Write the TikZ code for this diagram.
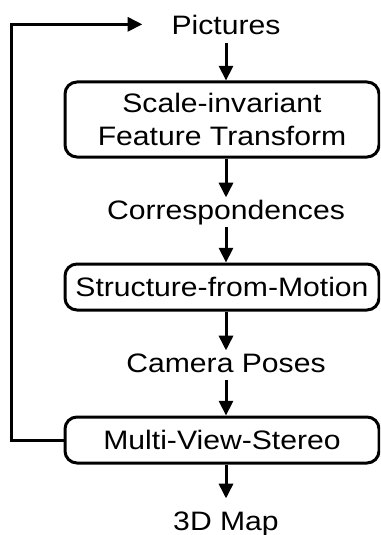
\documentclass[tikz,border=0pt]{standalone}
\usepackage{fontspec}
\setmainfont{Liberation Sans}[FakeStretch=1.13]
\usetikzlibrary{arrows.meta}

\tikzset{
  stage/.style={draw, line width=2.25pt, rounded corners=9pt,
                minimum width=235.5pt, align=center, inner sep=0pt},
  data/.style={inner sep=1.5pt, text height=14.5pt, text depth=4.5pt},
  flow/.style={line width=2.25pt, -{Triangle[length=11pt,width=10.5pt]}}
}

\begin{document}
\begin{tikzpicture}[x=0.75pt,y=-0.75pt,font=\fontsize{20}{24.75}\selectfont]
\useasboundingbox (0,0) rectangle (380,535);
\clip (0,0) rectangle (380,535);
\node [data, anchor=base] (pic) at (226,35) {Pictures};
\node [stage, minimum height=56.25pt] (sift) at (222,119.5)
      {Scale-invariant\\Feature Transform};
\node [data, anchor=base] (corr) at (226,219) {Correspondences};
\node [stage, minimum height=34.5pt] (sfm) at (222,287) {Structure-from-Motion};
\node [data, anchor=base] (pose) at (226,372) {Camera Poses};
\node [stage, minimum height=34.5pt] (mvs) at (222,440) {Multi-View-Stereo};
\node [data, anchor=base] (map) at (226,530) {3D Map};

% main chain
\draw [flow] (pic) -- (pic |- sift.north);
\draw [flow] (sift.south -| corr) -- (corr);
\draw [flow] (corr) -- (corr |- sfm.north);
\draw [flow] (sfm.south -| pose) -- (pose);
\draw [flow] (pose) -- (pose |- mvs.north);
\draw [flow, shorten >=7.5pt] (mvs.south -| map) -- (map);

% feedback loop
\draw [flow] (mvs.west) -- ++(-52,0) |- ([xshift=-20.25pt, yshift=3pt]pic.west);
\end{tikzpicture}
\end{document}
